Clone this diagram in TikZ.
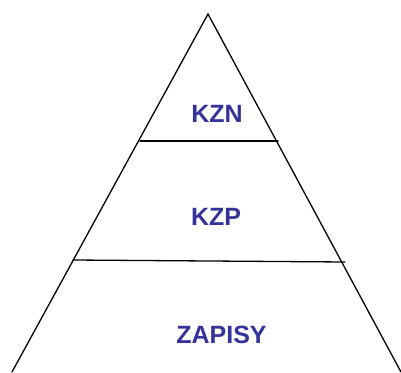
\documentclass[tikz,border=0pt]{standalone}
\usepackage{fontspec}
\setmainfont{Liberation Sans}
\definecolor{lbl}{RGB}{51,51,153}
\begin{document}
\begin{tikzpicture}[x=1pt,y=1pt,
  edge/.style={line width=1.3pt, line cap=round, line join=miter},
  lab/.style={text=lbl, font=\fontsize{25}{30}\selectfont\bfseries, inner sep=0pt, anchor=center}]
\useasboundingbox (0,0) rectangle (401,372);
\coordinate (apex) at (208,358);
\coordinate (bl) at (12,0);
\coordinate (br) at (401,0);
\coordinate (l1) at (140,231);
\coordinate (r1) at (278,231);
\coordinate (l2) at (73,112);
\coordinate (r2) at (345,110);
\draw[edge] (bl) -- (apex) -- (br);
\draw[edge] (l1) -- (r1);
\draw[edge] (l2) -- (r2);
\node[lab] (kzn) at (217,258.3) {KZN};
\node[lab] (kzp) at (216,155) {KZP};
\node[lab] (zap) at (221.5,37) {ZAPISY};
\end{tikzpicture}
\end{document}
